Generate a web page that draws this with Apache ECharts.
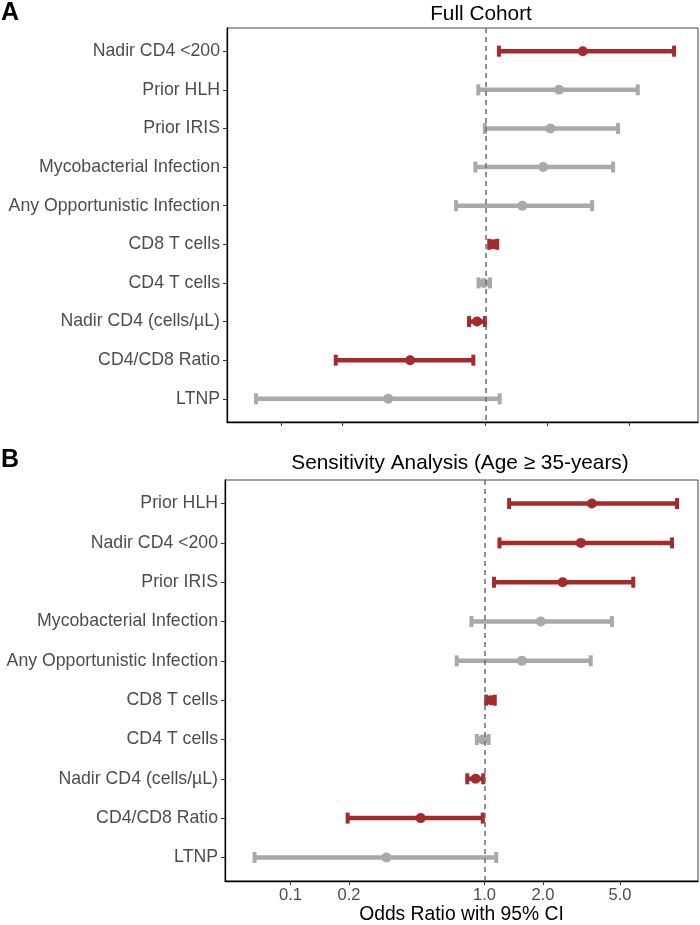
<!DOCTYPE html>
<html>
<head>
<meta charset="utf-8">
<script src="https://cdn.jsdelivr.net/npm/echarts@6/dist/echarts.min.js"></script>
<style>
  html, body { margin: 0; padding: 0; background: #fff; }
  #chart { width: 700px; height: 925px; }
</style>
</head>
<body>
<div id="chart"></div>
<script>
// panel A: full cohort (top to bottom)
const catsA = ['Nadir CD4 <200', 'Prior HLH', 'Prior IRIS', 'Mycobacterial Infection',
  'Any Opportunistic Infection', 'CD8 T cells', 'CD4 T cells', 'Nadir CD4 (cells/µL)',
  'CD4/CD8 Ratio', 'LTNP'];
const orA = [2.98, 2.28, 2.07, 1.91, 1.51, 1.09, 0.98, 0.907, 0.427, 0.334];
const loA = [1.16, 0.92, 0.99, 0.89, 0.716, 1.04, 0.922, 0.829, 0.185, 0.0755];
const hiA = [8.32, 5.53, 4.43, 4.19, 3.31, 1.138, 1.049, 0.992, 0.87, 1.17];

// panel B: sensitivity analysis (age >= 35)
const catsB = ['Prior HLH', 'Nadir CD4 <200', 'Prior IRIS', 'Mycobacterial Infection',
  'Any Opportunistic Infection', 'CD8 T cells', 'CD4 T cells', 'Nadir CD4 (cells/µL)',
  'CD4/CD8 Ratio', 'LTNP'];
const orB = [3.58, 3.14, 2.53, 1.95, 1.56, 1.08, 0.98, 0.90, 0.469, 0.312];
const loB = [1.34, 1.195, 1.12, 0.857, 0.719, 1.02, 0.913, 0.815, 0.197, 0.0652];
const hiB = [9.84, 9.27, 5.85, 4.54, 3.53, 1.13, 1.05, 0.986, 0.98, 1.15];

const xTicks = [0.1, 0.2, 1, 2, 5];

const RED = '#A52A2A';
const GREY = '#A9A9A9';
const FONT = 'Liberation Sans';

const chart = echarts.init(document.getElementById('chart'));

// odds ratios go on the axis as log10 values
function buildRows(or, lo, hi) {
  return or.map((v, i) => [Math.log10(lo[i]), Math.log10(hi[i]), Math.log10(v), i,
    (lo[i] > 1 || hi[i] < 1) ? 1 : 0]);
}

function renderItem(params, api) {
  const y = api.value(3);
  const p1 = api.coord([api.value(0), y]);
  const p2 = api.coord([api.value(1), y]);
  const pc = api.coord([api.value(2), y]);
  const color = api.value(4) ? RED : GREY;
  const capH = 5.5;
  return {
    type: 'group',
    children: [
      { type: 'line', shape: { x1: p1[0], y1: p1[1], x2: p2[0], y2: p2[1] },
        style: { stroke: color, lineWidth: 4.5 } },
      { type: 'line', shape: { x1: p1[0], y1: p1[1] - capH, x2: p1[0], y2: p1[1] + capH },
        style: { stroke: color, lineWidth: 4 } },
      { type: 'line', shape: { x1: p2[0], y1: p2[1] - capH, x2: p2[0], y2: p2[1] + capH },
        style: { stroke: color, lineWidth: 4 } },
      { type: 'circle', shape: { cx: pc[0], cy: pc[1], r: 5 },
        style: { fill: color } }
    ]
  };
}

function xAxisOf(gridIndex, min, max, showLabels) {
  return {
    type: 'value',
    gridIndex: gridIndex,
    min: min,
    max: max,
    splitLine: { show: false },
    axisLine: { onZero: false, lineStyle: { color: '#000', width: 1.3 } },
    axisTick: { customValues: xTicks.map(Math.log10), length: 4, lineStyle: { color: '#333' } },
    axisLabel: {
      show: showLabels,
      customValues: xTicks.map(Math.log10),
      formatter: v => Math.pow(10, v).toFixed(1),
      color: '#4D4D4D', fontSize: 16.5, fontFamily: FONT, margin: 6
    },
    name: showLabels ? 'Odds Ratio with 95% CI' : '',
    nameLocation: 'middle',
    nameGap: 24,
    nameTextStyle: { color: '#000', fontSize: 19.3, fontFamily: FONT }
  };
}

function yAxisOf(gridIndex, cats) {
  const idx = cats.map((c, i) => i);
  return {
    type: 'value',
    gridIndex: gridIndex,
    inverse: true,
    min: -0.6,
    max: 9.6,
    splitLine: { show: false },
    axisLine: { onZero: false, lineStyle: { color: '#000', width: 1.3 } },
    axisTick: { customValues: idx, length: 4, lineStyle: { color: '#333' } },
    axisLabel: {
      customValues: idx,
      formatter: v => cats[Math.round(v)],
      color: '#4D4D4D', fontSize: 17.7, fontFamily: FONT, margin: 7
    }
  };
}

function seriesOf(i, or, lo, hi) {
  return {
    type: 'custom',
    xAxisIndex: i,
    yAxisIndex: i,
    renderItem: renderItem,
    encode: { x: [0, 1, 2], y: 3 },
    data: buildRows(or, lo, hi),
    markLine: {
      silent: true,
      symbol: 'none',
      label: { show: false },
      lineStyle: { type: [5, 4], color: '#6E6E6E', width: 1.5 },
      data: [{ xAxis: 0 }]
    }
  };
}

chart.setOption({
  animation: false,
  grid: [
    { left: 227, right: 2, top: 28, height: 394, show: true, borderColor: '#444', borderWidth: 1 },
    { left: 225, right: 2, top: 480, height: 403, show: true, borderColor: '#444', borderWidth: 1 }
  ],
  xAxis: [xAxisOf(0, -1.264, 1.037, false), xAxisOf(1, -1.338, 1.101, true)],
  yAxis: [yAxisOf(0, catsA), yAxisOf(1, catsB)],
  series: [seriesOf(0, orA, loA, hiA), seriesOf(1, orB, loB, hiB)],
  graphic: [
    { type: 'text', left: 1, top: 1,
      style: { text: 'A', font: '900 25px ' + FONT, fill: '#000' } },
    { type: 'text', left: 1, top: 448,
      style: { text: 'B', font: '900 25px ' + FONT, fill: '#000' } },
    { type: 'text', x: 481, y: 14,
      style: { text: 'Full Cohort', font: '20.8px ' + FONT, fill: '#000',
        textAlign: 'center', textVerticalAlign: 'middle' } },
    { type: 'text', x: 460, y: 463,
      style: { text: 'Sensitivity Analysis (Age \u2265 35-years)', font: '20.8px ' + FONT, fill: '#000',
        textAlign: 'center', textVerticalAlign: 'middle' } }
  ]
});
</script>
</body>
</html>
